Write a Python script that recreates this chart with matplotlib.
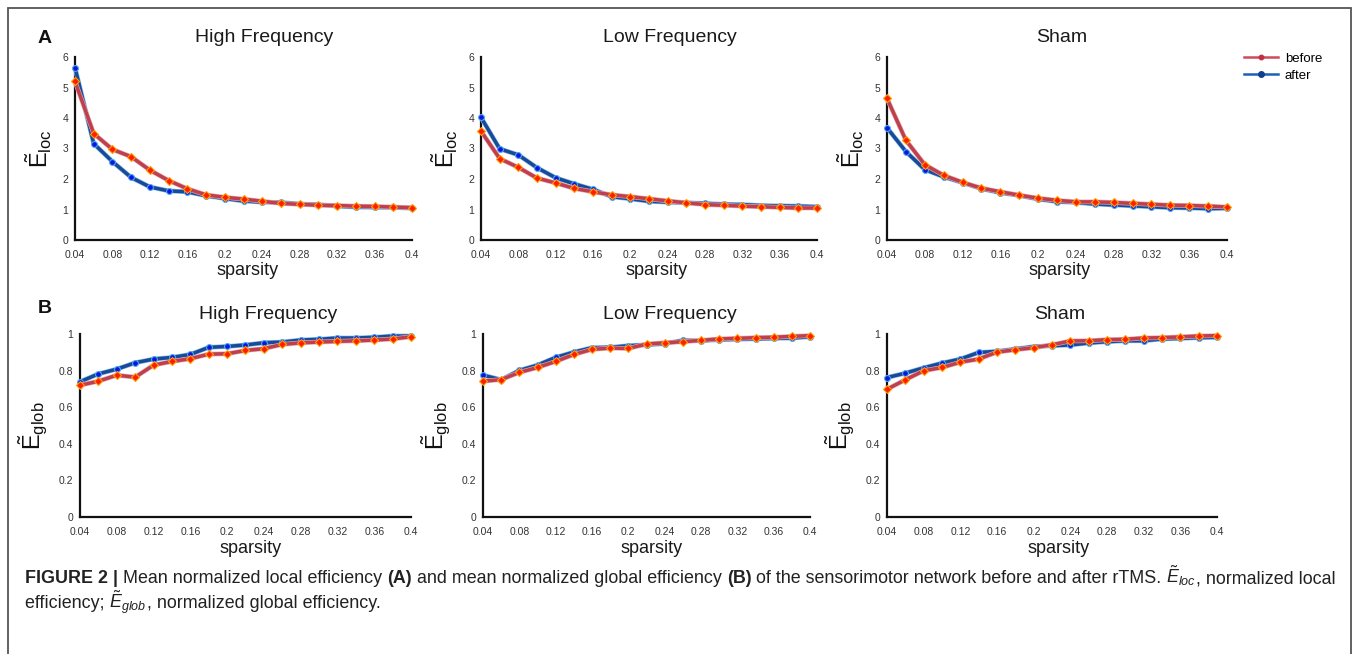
import matplotlib
matplotlib.use("Agg")
import matplotlib.pyplot as plt
import matplotlib.patheffects as pe
from matplotlib.lines import Line2D
from matplotlib.patches import Rectangle
import numpy as np

plt.rcParams['font.family'] = ['Liberation Sans', 'DejaVu Sans']
plt.rcParams['mathtext.fontset'] = 'custom'
plt.rcParams['mathtext.rm'] = 'Liberation Sans'
plt.rcParams['mathtext.it'] = 'Liberation Sans:italic'
plt.rcParams['mathtext.bf'] = 'Liberation Sans:bold'

# ---------------- data ----------------
sparsity = [0.04, 0.06, 0.08, 0.10, 0.12, 0.14, 0.16, 0.18, 0.20, 0.22,
            0.24, 0.26, 0.28, 0.30, 0.32, 0.34, 0.36, 0.38, 0.40]

groups = ["High Frequency", "Low Frequency", "Sham"]

eloc_hf_before = [5.20, 3.49, 2.97, 2.73, 2.29, 1.95, 1.68, 1.48, 1.40, 1.34,
                  1.27, 1.20, 1.17, 1.14, 1.13, 1.11, 1.10, 1.08, 1.06]
eloc_hf_after = [5.65, 3.16, 2.57, 2.05, 1.74, 1.61, 1.58, 1.45, 1.36, 1.28,
                 1.24, 1.23, 1.18, 1.16, 1.11, 1.08, 1.07, 1.07, 1.04]
eloc_lf_before = [3.57, 2.67, 2.38, 2.03, 1.87, 1.69, 1.58, 1.48, 1.42, 1.35,
                  1.28, 1.22, 1.16, 1.14, 1.11, 1.09, 1.07, 1.05, 1.05]
eloc_lf_after = [4.02, 2.99, 2.79, 2.37, 2.04, 1.84, 1.66, 1.42, 1.35, 1.27,
                 1.24, 1.22, 1.20, 1.17, 1.16, 1.13, 1.12, 1.11, 1.09]
eloc_sh_before = [4.64, 3.27, 2.47, 2.12, 1.89, 1.70, 1.58, 1.47, 1.37, 1.30,
                  1.25, 1.25, 1.23, 1.20, 1.17, 1.14, 1.13, 1.11, 1.08]
eloc_sh_after = [3.68, 2.90, 2.31, 2.07, 1.88, 1.68, 1.55, 1.46, 1.34, 1.26,
                 1.23, 1.18, 1.15, 1.12, 1.09, 1.06, 1.05, 1.03, 1.04]

eglob_hf_before = [0.720, 0.742, 0.775, 0.764, 0.830, 0.850, 0.865, 0.890, 0.892, 0.910,
                   0.920, 0.943, 0.952, 0.956, 0.960, 0.963, 0.967, 0.973, 0.985]
eglob_hf_after = [0.739, 0.782, 0.808, 0.843, 0.863, 0.872, 0.888, 0.927, 0.932, 0.940,
                  0.952, 0.956, 0.967, 0.971, 0.978, 0.978, 0.982, 0.989, 0.989]
eglob_lf_before = [0.742, 0.751, 0.790, 0.817, 0.850, 0.888, 0.916, 0.923, 0.921, 0.945,
                   0.952, 0.958, 0.965, 0.973, 0.976, 0.980, 0.982, 0.987, 0.991]
eglob_lf_after = [0.775, 0.750, 0.801, 0.830, 0.872, 0.901, 0.925, 0.927, 0.936, 0.941,
                  0.947, 0.965, 0.963, 0.969, 0.971, 0.974, 0.976, 0.978, 0.985]
eglob_sh_before = [0.698, 0.750, 0.799, 0.817, 0.846, 0.863, 0.901, 0.914, 0.925, 0.941,
                   0.962, 0.963, 0.969, 0.971, 0.978, 0.980, 0.984, 0.989, 0.991]
eglob_sh_after = [0.762, 0.786, 0.815, 0.841, 0.863, 0.899, 0.905, 0.918, 0.931, 0.936,
                  0.940, 0.951, 0.958, 0.963, 0.963, 0.973, 0.976, 0.980, 0.982]

xtick_vals = [0.04, 0.08, 0.12, 0.16, 0.2, 0.24, 0.28, 0.32, 0.36, 0.4]
xtick_labels = ["0.04", "0.08", "0.12", "0.16", "0.2", "0.24", "0.28", "0.32", "0.36", "0.4"]
ytick_loc = [0, 1, 2, 3, 4, 5, 6]
ytick_loc_labels = ["0", "1", "2", "3", "4", "5", "6"]
ytick_glob = [0, 0.2, 0.4, 0.6, 0.8, 1.0]
ytick_glob_labels = ["0", "0.2", "0.4", "0.6", "0.8", "1"]

legend_labels = ["before", "after"]

# ---------------- figure ----------------
W, H = 1357, 654
fig = plt.figure(figsize=(W / 100, H / 100), dpi=100)
fig.patch.set_facecolor("white")

def px_axes(x0, x1, ytop, ybot):
    return fig.add_axes([x0 / W, 1 - ybot / H, (x1 - x0) / W, (ybot - ytop) / H])

axA = [px_axes(75, 412, 57, 240), px_axes(481, 817, 57, 240), px_axes(887, 1227, 57, 240)]
axB = [px_axes(80, 411, 334, 517), px_axes(483, 810, 334, 517), px_axes(887, 1217, 334, 517)]

RED_LINE = "#bf3f4c"
RED_GLOW = "#e8aab0"
RED_MK = "#ff1c00"
RED_MK_EDGE = "#ffa000"
BLUE_LINE = "#184a98"
BLUE_GLOW = "#86bce8"
BLUE_MK = "#0a16e0"
BLUE_MK_EDGE = "#4fa8ee"

def draw(ax, before, after, ylim, yt, ytl, ylabel):
    # lines (with soft halo)
    ax.plot(sparsity, after, color=BLUE_LINE, lw=2.5, clip_on=False, zorder=3,
            solid_capstyle="round",
            path_effects=[pe.Stroke(linewidth=3.4, foreground=BLUE_GLOW), pe.Normal()])
    ax.plot(sparsity, after, ls="none", marker="o", ms=4.2, mfc=BLUE_MK,
            mec=BLUE_MK_EDGE, mew=0.8, clip_on=False, zorder=3.5)
    ax.plot(sparsity, before, color=RED_LINE, lw=2.5, clip_on=False, zorder=4,
            solid_capstyle="round",
            path_effects=[pe.Stroke(linewidth=3.4, foreground=RED_GLOW), pe.Normal()])
    ax.plot(sparsity, before, ls="none", marker="D", ms=3.6, mfc=RED_MK,
            mec=RED_MK_EDGE, mew=0.8, clip_on=False, zorder=4.5)
    ax.set_xlim(0.04, 0.4)
    ax.set_ylim(*ylim)
    ax.set_xticks(xtick_vals)
    ax.set_xticklabels(xtick_labels)
    ax.set_yticks(yt)
    ax.set_yticklabels(ytl)
    ax.tick_params(length=0, labelsize=7.5, colors="#333333", pad=5)
    ax.tick_params(axis="x", pad=7)
    for s in ["top", "right"]:
        ax.spines[s].set_visible(False)
    for s in ["left", "bottom"]:
        ax.spines[s].set_color("#111111")
        ax.spines[s].set_linewidth(1.6)
    ax.set_ylabel(ylabel, fontsize=17, rotation=90, labelpad=6, color="#111111")
    ax.set_facecolor("none")

loc_label = r"$\tilde{\mathrm{E}}_{\mathrm{loc}}$"
glob_label = r"$\tilde{\mathrm{E}}_{\mathrm{glob}}$"

draw(axA[0], eloc_hf_before, eloc_hf_after, (0, 6), ytick_loc, ytick_loc_labels, loc_label)
draw(axA[1], eloc_lf_before, eloc_lf_after, (0, 6), ytick_loc, ytick_loc_labels, loc_label)
draw(axA[2], eloc_sh_before, eloc_sh_after, (0, 6), ytick_loc, ytick_loc_labels, loc_label)
draw(axB[0], eglob_hf_before, eglob_hf_after, (0, 1), ytick_glob, ytick_glob_labels, glob_label)
draw(axB[1], eglob_lf_before, eglob_lf_after, (0, 1), ytick_glob, ytick_glob_labels, glob_label)
draw(axB[2], eglob_sh_before, eglob_sh_after, (0, 1), ytick_glob, ytick_glob_labels, glob_label)

# titles and x labels
titleA_x = [264, 670, 1062]
titleB_x = [268, 670, 1060]
xlabA_x = [248, 657, 1060]
xlabB_x = [251, 652, 1059]
for i, g in enumerate(groups):
    fig.text(titleA_x[i] / W, 1 - 42 / H, g, fontsize=14, ha="center", va="baseline", color="#1a1a1a")
    fig.text(titleB_x[i] / W, 1 - 319 / H, g, fontsize=14, ha="center", va="baseline", color="#1a1a1a")
    fig.text(xlabA_x[i] / W, 1 - 275 / H, "sparsity", fontsize=13, ha="center", va="baseline", color="#1a1a1a")
    fig.text(xlabB_x[i] / W, 1 - 553 / H, "sparsity", fontsize=13, ha="center", va="baseline", color="#1a1a1a")

# panel letters
fig.text(38 / W, 1 - 43 / H, "A", fontsize=14, weight="bold", ha="left", va="baseline", color="#111111")
fig.text(38 / W, 1 - 313 / H, "B", fontsize=14, weight="bold", ha="left", va="baseline", color="#111111")

# legend
handles = [Line2D([], [], color="#d04a58", lw=1.8, marker="o", ms=3.2, mfc="#c03040", mec="#c03040"),
           Line2D([], [], color="#1f5fb4", lw=1.8, marker="o", ms=4, mfc="#103f90", mec="#103f90")]
fig.legend(handles, legend_labels, loc="center left", bbox_to_anchor=(1244 / W, 1 - 67 / H),
           frameon=False, fontsize=9.5, handlelength=2.6, handletextpad=0.5,
           labelspacing=0.35, borderpad=0, borderaxespad=0)

# border
fig.patches.append(Rectangle((8 / W, -0.05), (1351 - 8) / W, (654 - 8) / H + 0.05,
                             transform=fig.transFigure, fill=False, edgecolor="#555555",
                             lw=1.3, zorder=0))

# caption
renderer = fig.canvas.get_renderer()
line1 = [("FIGURE 2 | ", "bold"), ("Mean normalized local efficiency ", "normal"), ("(A)", "bold"),
         (" and mean normalized global efficiency ", "normal"), ("(B)", "bold"),
         (" of the sensorimotor network before and after rTMS. ", "normal"),
         (r"$\tilde{E}_{loc}$", "normal"), (", normalized local", "normal")]
line2 = [("efficiency; ", "normal"), (r"$\tilde{E}_{glob}$", "normal"),
         (", normalized global efficiency.", "normal")]

def place(pieces, x, y, fs, keep=True):
    xs = x
    arts = []
    for txt, wt in pieces:
        t = fig.text(xs / W, 1 - y / H, txt, fontsize=fs, weight=wt, ha="left",
                     va="baseline", color="#222222")
        bb = t.get_window_extent(renderer)
        xs += bb.width
        arts.append(t)
    if not keep:
        for a in arts:
            a.remove()
    return xs - x

test_fs = 10
wtest = place(line1, 25, 583, test_fs, keep=False)
fs_cap = test_fs * (1339 - 25) / wtest
place(line1, 25, 583, fs_cap)
place(line2, 25, 608, fs_cap)

fig.savefig("out.png", dpi=100, facecolor="white")
